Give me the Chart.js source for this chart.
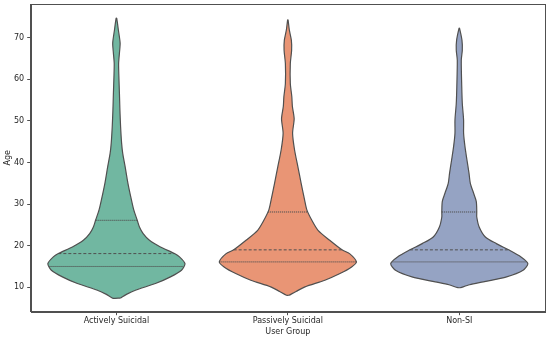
<!DOCTYPE html>
<html><head><meta charset="utf-8">
<script src="https://cdn.jsdelivr.net/npm/chart.js@4.4.1/dist/chart.umd.min.js"></script>
<style>html,body{margin:0;padding:0;background:#fff}canvas{display:block}</style>
</head><body>
<canvas id="c" width="550" height="340"></canvas>
<script>
const categories = ['Actively Suicidal', 'Passively Suicidal', 'Non-SI'];
const yTicks = [10, 20, 30, 40, 50, 60, 70];

// Age grid and relative violin half-width (1 = widest point)
const activeAges  = [7.4, 8.3, 9.3, 10.9, 12.5, 14.1, 15.7, 17.3, 18.1, 19.7, 21.3, 22.9, 24.5, 26.1, 28.6, 31, 35, 39, 42.2, 44.6, 48.6, 52.6, 56.6, 60.6, 63.8, 66.3, 68.7, 71.8, 74.7];
const activeWidth = [0.058, 0.146, 0.277, 0.569, 0.788, 0.949, 1.0, 0.92, 0.847, 0.642, 0.482, 0.39, 0.336, 0.304, 0.253, 0.219, 0.168, 0.127, 0.092, 0.076, 0.061, 0.051, 0.044, 0.036, 0.032, 0.044, 0.054, 0.029, 0.004];

const passiveAges  = [8.1, 9.0, 10.1, 11.7, 13.3, 14.9, 16.1, 18.1, 19.0, 21.3, 23.7, 26.1, 28.6, 31, 35, 39, 43, 47, 50.5, 53.5, 55.8, 59, 63.8, 67, 69.4, 71.8, 74.3];
const passiveWidth = [0.02, 0.12, 0.25, 0.54, 0.76, 0.93, 1.0, 0.9, 0.79, 0.61, 0.44, 0.35, 0.277, 0.244, 0.194, 0.146, 0.098, 0.069, 0.092, 0.066, 0.058, 0.036, 0.036, 0.055, 0.051, 0.022, 0.003];

const nonsiAges  = [9.9, 10.6, 11.3, 12.5, 14.1, 15.7, 17.3, 19.0, 20.5, 22.1, 24.5, 26.9, 28.2, 30.6, 32.6, 35, 37.4, 40.6, 43.8, 47, 50.2, 54.2, 58.2, 64.6, 67, 69.4, 72.3];
const nonsiWidth = [0.02, 0.15, 0.35, 0.69, 0.93, 1.0, 0.9, 0.72, 0.54, 0.38, 0.29, 0.255, 0.255, 0.248, 0.209, 0.161, 0.142, 0.112, 0.083, 0.063, 0.063, 0.044, 0.036, 0.029, 0.044, 0.039, 0.003];

// Quartiles [Q1, median, Q3]
const activeQuart  = [15.0, 18.1, 26.1];
const passiveQuart = [16.1, 19.0, 28.1];
const nonsiQuart   = [16.1, 19.0, 28.1];

const fills = ['#71b7a1', '#e99575', '#95a3c3'];
const edge = '#505050';
const HALF = 0.4;

const groups = [
  {ages: activeAges, w: activeWidth, q: activeQuart},
  {ages: passiveAges, w: passiveWidth, q: passiveQuart},
  {ages: nonsiAges, w: nonsiWidth, q: nonsiQuart}
];

function widthAt(g, a) {
  for (let i = 0; i < g.ages.length - 1; i++) {
    if (a >= g.ages[i] && a <= g.ages[i + 1]) {
      const t = (a - g.ages[i]) / (g.ages[i + 1] - g.ages[i]);
      return g.w[i] + t * (g.w[i + 1] - g.w[i]);
    }
  }
  return 0;
}

const datasets = [];
// quartile lines first so they are drawn on top
groups.forEach((g, i) => {
  g.q.forEach((qa, k) => {
    const hw = HALF * widthAt(g, qa);
    datasets.push({
      data: [{x: i - hw, y: qa}, {x: i + hw, y: qa}],
      showLine: true, fill: false, pointRadius: 0,
      borderColor: edge, borderWidth: 1,
      borderDash: k === 1 ? [3, 2] : [1.2, 0.8]
    });
  });
});
groups.forEach((g, i) => {
  const pts = [];
  for (let j = 0; j < g.ages.length; j++) pts.push({x: i + HALF * g.w[j], y: g.ages[j]});
  for (let j = g.ages.length - 1; j >= 0; j--) pts.push({x: i - HALF * g.w[j], y: g.ages[j]});
  pts.push({x: i + HALF * g.w[0], y: g.ages[0]});
  datasets.push({
    data: pts, showLine: true, fill: 'shape', pointRadius: 0,
    backgroundColor: fills[i], borderColor: edge, borderWidth: 1.2, tension: 0.25
  });
});

const frame = {
  id: 'frame',
  afterDraw(chart) {
    const {ctx, chartArea: a} = chart;
    ctx.save();
    ctx.strokeStyle = '#505050';
    ctx.lineWidth = 1;
    ctx.strokeRect(Math.round(a.left) + 0.5, Math.round(a.top) + 0.5, Math.round(a.right - a.left), Math.round(a.bottom - a.top));
    ctx.restore();
  }
};

const tickFont = {family: 'DejaVu Sans', size: 8};
new Chart(document.getElementById('c'), {
  type: 'scatter',
  data: {datasets},
  plugins: [frame],
  options: {
    responsive: false, animation: false, devicePixelRatio: 1,
    layout: {padding: {left: 0, right: 5, top: 4, bottom: 0}},
    plugins: {legend: {display: false}, tooltip: {enabled: false}, filler: {drawTime: 'beforeDatasetsDraw'}},
    scales: {
      x: {
        type: 'linear', min: -0.5, max: 2.5,
        afterBuildTicks: s => { s.ticks = categories.map((c, i) => ({value: i})); },
        afterFit: s => { s.height = 28.3; s.paddingLeft = 0; s.paddingRight = 0; },
        ticks: {callback: v => categories[v], font: tickFont, color: '#262626', padding: 1, maxRotation: 0},
        grid: {display: true, drawOnChartArea: false, tickLength: 3.5, color: '#505050'},
        border: {display: true, color: '#505050'},
        title: {display: true, text: 'User Group', font: tickFont, color: '#262626', padding: {top: 0, bottom: 3}}
      },
      y: {
        type: 'linear', min: 4.13, max: 78.1,
        afterBuildTicks: s => { s.ticks = yTicks.map(v => ({value: v})); },
        afterFit: s => { s.width = 30.7; s.paddingTop = 0; s.paddingBottom = 0; },
        ticks: {font: tickFont, color: '#262626', padding: 3},
        grid: {display: true, drawOnChartArea: false, tickLength: 3.5, color: '#505050'},
        border: {display: true, color: '#505050'},
        title: {display: true, text: 'Age', font: tickFont, color: '#262626', padding: {top: 3, bottom: 0}}
      }
    }
  }
});
</script>
</body></html>
